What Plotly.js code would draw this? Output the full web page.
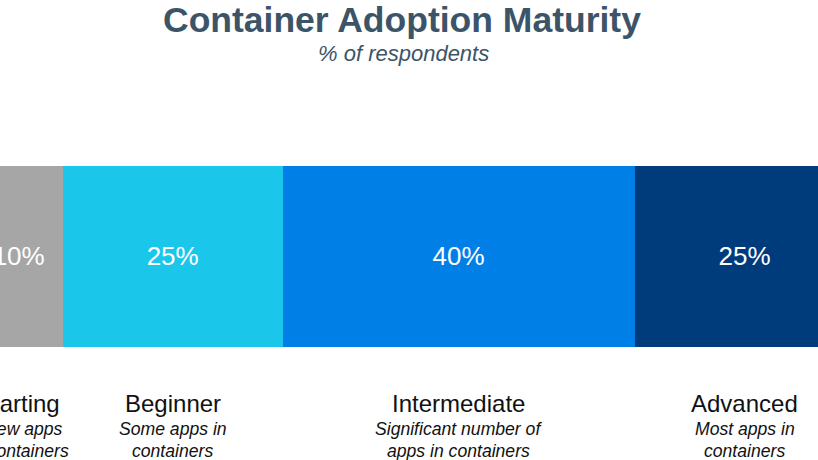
<!DOCTYPE html>
<html>
<head>
<meta charset="utf-8">
<script src="https://cdn.plot.ly/plotly-3.0.1.min.js"></script>
<style>
  html, body { margin: 0; padding: 0; background: #fff; }
  #chart { width: 818px; height: 460px; }
</style>
</head>
<body>
<div id="chart"></div>
<script>
// stages of adoption, left to right
var stages = ['Starting', 'Beginner', 'Intermediate', 'Advanced'];
var shares = [10, 25, 40, 25];
var notesTop = ['A few apps', 'Some apps in', 'Significant number of', 'Most apps in'];
var notesBottom = ['in containers', 'containers', 'apps in containers', 'containers'];
var colors = ['#a6a6a6', '#1bc6eb', '#0080e6', '#003b7c'];

var font = '"Liberation Sans", Arial, Helvetica, sans-serif';

var data = [];
for (let i = 0; i < stages.length; i++) {
    data.push({
        type: 'bar',
        orientation: 'h',
        name: stages[i],
        y: ['all'],
        x: [shares[i]],
        marker: {color: colors[i], line: {width: 0}},
        text: [shares[i] + '%'],
        textposition: 'inside',
        insidetextanchor: 'middle',
        textangle: 0,
        constraintext: 'none',
        textfont: {family: font, size: 26, color: '#ffffff'},
        hoverinfo: 'skip'
    });
};

// labels under the bar sit at the middle of each segment
var annotations = [];
var start = 0;
for (let i = 0; i < stages.length; i++) {
    let mid = start + shares[i] / 2;
    start += shares[i];
    annotations.push({xref: 'x', yref: 'paper', x: mid, y: 0.1226, yanchor: 'middle',
        text: stages[i], showarrow: false, font: {family: font, size: 24, color: '#111111'}});
    annotations.push({xref: 'x', yref: 'paper', x: mid, y: 0.0674, yanchor: 'middle',
        text: '<i>' + notesTop[i] + '</i>', showarrow: false, font: {family: font, size: 17.6, color: '#111111'}});
    annotations.push({xref: 'x', yref: 'paper', x: mid, y: 0.0196, yanchor: 'middle',
        text: '<i>' + notesBottom[i] + '</i>', showarrow: false, font: {family: font, size: 17.6, color: '#111111'}});
};

annotations.push({xref: 'paper', yref: 'paper', x: 0.4914, y: 0.9575, yanchor: 'middle',
    text: '<b>Container Adoption Maturity</b>', showarrow: false,
    font: {family: font, size: 35.5, color: '#3c5467'}});
annotations.push({xref: 'paper', yref: 'paper', x: 0.4927, y: 0.884, yanchor: 'middle',
    text: '<i>% of respondents</i>', showarrow: false,
    font: {family: font, size: 22, color: '#3c5467'}});

var layout = {
    width: 818,
    height: 460,
    margin: {l: 0, r: 0, t: 0, b: 0},
    paper_bgcolor: '#ffffff',
    plot_bgcolor: '#ffffff',
    barmode: 'stack',
    bargap: 0,
    showlegend: false,
    xaxis: {range: [2.88, 95.84], visible: false, fixedrange: true},
    yaxis: {range: [-0.5, 0.5], domain: [0.2457, 0.6391], visible: false, fixedrange: true},
    annotations: annotations
};

Plotly.newPlot('chart', data, layout, {displayModeBar: false, staticPlot: true});
</script>
</body>
</html>
